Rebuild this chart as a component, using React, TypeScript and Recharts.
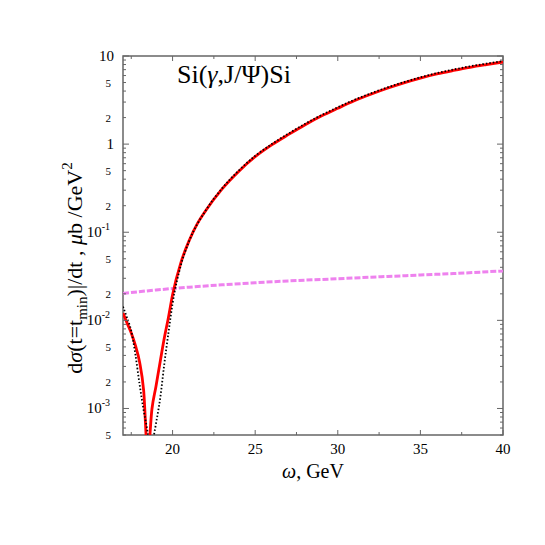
import { LineChart, Line, XAxis, YAxis, ReferenceArea } from "recharts";

// solid red curve
const redOmega = [17, 17.25, 17.5, 17.75, 18, 18.25, 18.5, 18.75, 19, 19.25, 19.5, 19.75, 20, 20.5, 21, 21.5, 22, 23, 24, 25, 26, 27, 28, 29, 30, 31, 32, 33, 34, 35, 36, 37, 38, 39, 40];
const redSigma = [0.0121, 0.0093, 0.0072, 0.0052, 0.0034, 0.0016, 0.0003, 0.00098, 0.0018, 0.0034, 0.0063, 0.0108, 0.0195, 0.045, 0.08, 0.125, 0.175, 0.31, 0.49, 0.72, 0.98, 1.28, 1.65, 2.08, 2.55, 3.1, 3.68, 4.3, 4.95, 5.6, 6.25, 6.85, 7.45, 8.0, 8.55];

// black dotted curve
const blackOmega = [17, 17.25, 17.5, 17.75, 18, 18.25, 18.5, 18.65, 18.8, 19, 19.25, 19.5, 19.75, 20, 20.5, 21, 22, 23, 24, 25, 26, 27, 28, 29, 30, 31, 32, 33, 34, 35, 36, 37, 38, 39, 40];
const blackSigma = [0.0143, 0.0106, 0.0076, 0.0041, 0.0019, 0.00095, 0.00052, 0.0003, 0.00042, 0.00068, 0.0013, 0.0032, 0.0072, 0.0155, 0.042, 0.079, 0.176, 0.315, 0.5, 0.735, 1.0, 1.31, 1.69, 2.13, 2.62, 3.18, 3.77, 4.4, 5.06, 5.73, 6.4, 7.02, 7.63, 8.2, 8.77];

// violet dashed curve
const pinkOmega = [17, 19, 21, 23, 25, 27, 29, 31, 33, 35, 37, 40];
const pinkSigma = [0.0202, 0.0221, 0.0238, 0.0253, 0.0267, 0.028, 0.0291, 0.0303, 0.0315, 0.0327, 0.034, 0.0364];

const xTicks = [17.5, 20, 22.5, 25, 27.5, 30, 32.5, 35, 37.5, 40];
const xTickLabels = [20, 25, 30, 35, 40];

const yTicks = [
  0.0005, 0.0006, 0.0007, 0.0008, 0.0009,
  0.001, 0.002, 0.003, 0.004, 0.005, 0.006, 0.007, 0.008, 0.009,
  0.01, 0.02, 0.03, 0.04, 0.05, 0.06, 0.07, 0.08, 0.09,
  0.1, 0.2, 0.3, 0.4, 0.5, 0.6, 0.7, 0.8, 0.9,
  1, 2, 3, 4, 5, 6, 7, 8, 9, 10,
];
const yDecades = [0.001, 0.01, 0.1, 1, 10];
const yDecadeLabels: Record<string, [string, string]> = {
  "0.001": ["10", "-3"],
  "0.01": ["10", "-2"],
  "0.1": ["10", "-1"],
  "1": ["1", ""],
  "10": ["10", ""],
};
const ySmallLabels: Record<string, string> = {
  "0.0005": "5",
  "0.002": "2",
  "0.005": "5",
  "0.02": "2",
  "0.05": "5",
  "0.2": "2",
  "0.5": "5",
  "2": "2",
  "5": "5",
};

const toPoints = (xs: number[], ys: number[]) => xs.map((w, i) => ({ w, v: ys[i] }));
const redData = toPoints(redOmega, redSigma);
const blackData = toPoints(blackOmega, blackSigma);
const pinkData = toPoints(pinkOmega, pinkSigma);

const W = 530;
const H = 530;
const PL = 115;
const PR = 495;
const PT = 48;
const PB = 427;
const FONT = "'Liberation Serif', 'DejaVu Serif', serif";
const AXIS = "#666";

function YTick(props: any) {
  const { y, payload } = props;
  const v = payload.value;
  const key = String(v);
  const len = yDecades.includes(v) ? 6 : 3;
  const big = yDecadeLabels[key];
  const small = ySmallLabels[key];
  return (
    <g>
      <line x1={PL} x2={PL + len} y1={y} y2={y} stroke={AXIS} />
      <line x1={PR} x2={PR - len} y1={y} y2={y} stroke={AXIS} />
      {big && (
        <text x={big[1] ? PL - 13 : PL - 9} y={y + 5} textAnchor="end" fontFamily={FONT} fontSize={15} fill="#000">
          {big[0]}
          {big[1] && <tspan dy={-7} fontSize={10}>{big[1]}</tspan>}
        </text>
      )}
      {small && (
        <text x={PL - 12} y={y + 4} textAnchor="end" fontFamily={FONT} fontSize={11} fill="#000">
          {small}
        </text>
      )}
    </g>
  );
}

function XTick(props: any) {
  const { x, payload } = props;
  const v = payload.value;
  const labelled = xTickLabels.includes(v);
  const len = labelled ? 5 : 3;
  return (
    <g>
      <line x1={x} x2={x} y1={PB} y2={PB - len} stroke={AXIS} />
      <line x1={x} x2={x} y1={PT} y2={PT + len} stroke={AXIS} />
      {labelled && (
        <text x={x} y={PB + 19} textAnchor="middle" fontFamily={FONT} fontSize={15} fill="#000">
          {v}
        </text>
      )}
    </g>
  );
}

function XTitles() {
  return (
    <g fontFamily={FONT} fill="#000">
      <text x={(PL + PR) / 2} y={PB + 43} textAnchor="middle" fontSize={20}>
        <tspan fontStyle="italic">ω</tspan>
        {", GeV"}
      </text>
      <text x={169} y={75} fontSize={26}>
        {"Si("}
        <tspan fontStyle="italic">γ</tspan>
        {",J/Ψ)Si"}
      </text>
    </g>
  );
}

function YTitle() {
  const cx = 74;
  const cy = 260;
  return (
    <text
      x={cx}
      y={cy}
      transform={`rotate(-90, ${cx}, ${cy})`}
      textAnchor="middle"
      fontFamily={FONT}
      fontSize={22}
      fill="#000"
    >
      {"d"}
      <tspan fontStyle="italic">σ</tspan>
      {"(t=t"}
      <tspan dy={5} fontSize={15}>min</tspan>
      <tspan dy={-5}>{")|/dt , "}</tspan>
      <tspan fontStyle="italic">μ</tspan>
      {"b /GeV"}
      <tspan dy={-10} fontSize={15}>2</tspan>
    </text>
  );
}

export default function App() {
  return (
    <div style={{ width: W, height: H }}>
      <LineChart width={W} height={H} margin={{ top: PT, right: W - PR, bottom: 53, left: 0 }}>
        <XAxis
          dataKey="w"
          type="number"
          domain={[17, 40]}
          ticks={xTicks}
          interval={0}
          allowDataOverflow
          axisLine={false}
          tickLine={false}
          tick={<XTick />}
          height={50}
          label={<XTitles />}
        />
        <YAxis
          dataKey="v"
          scale="log"
          domain={[0.0005, 10]}
          ticks={yTicks}
          interval={0}
          allowDataOverflow
          axisLine={false}
          tickLine={false}
          tick={<YTick />}
          width={PL}
          label={<YTitle />}
        />
        <ReferenceArea x1={17} x2={40} y1={0.0005} y2={10} fill="none" stroke={AXIS} strokeWidth={1.5} />
        <Line type="monotone" data={pinkData} dataKey="v" stroke="#ee82ee" strokeWidth={3} strokeDasharray="6 2" dot={false} isAnimationActive={false} />
        <Line type="monotone" data={redData} dataKey="v" stroke="#ff0000" strokeWidth={2.8} dot={false} isAnimationActive={false} />
        <Line type="monotone" data={blackData} dataKey="v" stroke="#000" strokeWidth={1.8} strokeDasharray="1.5 2" dot={false} isAnimationActive={false} />
      </LineChart>
    </div>
  );
}
